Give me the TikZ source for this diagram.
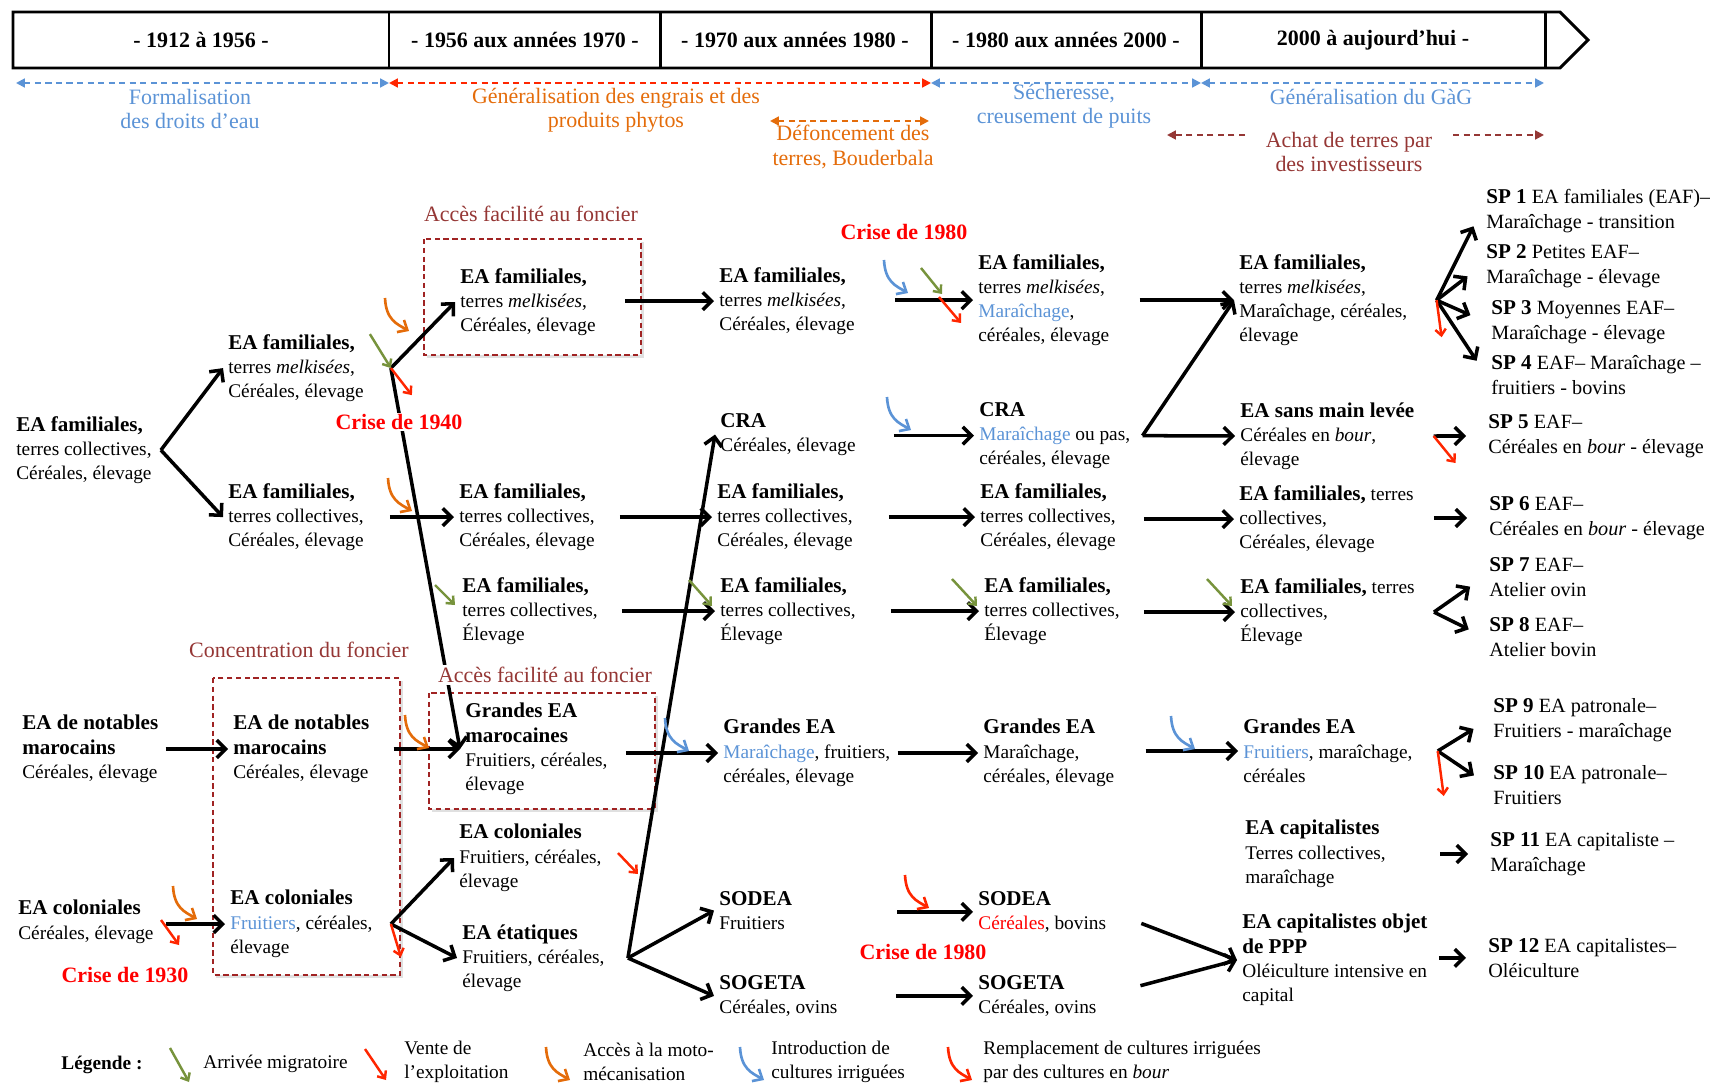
\documentclass[tikz,border=0pt]{standalone}
\usepackage{fontspec}
\setmainfont{Liberation Serif}
\usepackage{tikz}
\usetikzlibrary{arrows.meta}
\definecolor{CBlue}{RGB}{91,147,214}
\definecolor{COrange}{RGB}{228,108,10}
\definecolor{CRed}{RGB}{255,38,0}
\definecolor{CBrown}{RGB}{149,55,53}
\definecolor{CGreen}{RGB}{119,147,60}
\definecolor{CBox}{RGB}{160,35,35}
\newcommand{\hdr}[1]{{\fontsize{12}{13.8}\selectfont\bfseries #1}}

\begin{document}
\begin{tikzpicture}[x=0.02cm, y=-0.02cm,
  ea/.style={anchor=north west, align=left, inner xsep=0.1cm, inner ysep=0pt,
             font=\fontsize{11}{13.8}\selectfont},
  sp/.style={ea, font=\fontsize{11.5}{14.2}\selectfont},
  period/.style={font=\fontsize{12.5}{14}\selectfont\bfseries},
  lbl/.style={text=#1, align=center, inner sep=1pt, font=\fontsize{12.5}{13.8}\selectfont},
  crise/.style={text=red, inner sep=1pt, font=\fontsize{12.5}{14}\selectfont\bfseries},
  arr/.style={-{Straight Barb[length=5pt,width=10pt]}, line width=2pt},
  tosp/.style={arr, shorten >=0.34cm},
  ev/.style={-{Straight Barb[length=3.5pt,width=6pt]}, line width=1.4pt, draw=#1},
  span/.style={{Triangle[length=5pt,width=5pt]}-{Triangle[length=5pt,width=5pt]},
               draw=#1, line width=1.1pt, dash pattern=on 3.5pt off 2.5pt},
  half/.style={-{Triangle[length=5pt,width=5pt]}, draw=#1, line width=1.1pt,
               dash pattern=on 3.5pt off 2.5pt},
  fbox/.style={draw=CBox, line width=1pt, dash pattern=on 3pt off 2pt, fill=white},
  hookarr/.pic={\draw[-{Straight Barb[length=4.5pt,width=8pt]}, line width=1.5pt, draw=#1]
                (0,0) .. controls (1,22) and (12,26) .. (24,33);}
]
\useasboundingbox (0,0) rectangle (1710,1084);

% Timeline
\draw[line width=1.7pt] (13,12) -- (1560,12) -- (1588,40) -- (1560,68) -- (13,68) -- cycle;
\draw[line width=1.7pt] (389,12) -- (389,68);
\draw[line width=1.7pt] (660,12) -- (660,68);
\draw[line width=1.7pt] (931,12) -- (931,68);
\draw[line width=1.7pt] (1201,12) -- (1201,68);
\draw[line width=1.7pt] (1545,12) -- (1545,68);
\node[period] (p1) at (201,40)  {- 1912 à 1956 -};
\node[period] (p2) at (525,40)  {- 1956 aux années 1970 -};
\node[period] (p3) at (795,40)  {- 1970 aux années 1980 -};
\node[period] (p4) at (1066,40) {- 1980 aux années 2000 -};
\node[period] (p5) at (1373,40) {2000 à aujourd’hui -};

% Context spans
\coordinate (s0) at (16,83);
\coordinate (s1) at (389,83);
\coordinate (s2) at (931,83);
\coordinate (s3) at (1201,83);
\coordinate (s4) at (1544,83);
\draw[span=CBlue] (s0) -- (s1);
\draw[span=CRed]  (s1) -- (s2);
\draw[span=CBlue] (s2) -- (s3);
\draw[span=CBlue] (s3) -- (s4);
\coordinate (o1) at (770,121);
\coordinate (o2) at (929,121);
\draw[span=COrange] (o1) -- (o2);
\coordinate (b1) at (1245,135);
\coordinate (b2) at (1167,135);
\coordinate (b3) at (1453,135);
\coordinate (b4) at (1544,135);
\draw[half=CBrown] (b1) -- (b2);
\draw[half=CBrown] (b3) -- (b4);
\node[lbl=CBlue]   (l1) at (190,109)  {Formalisation\\des droits d’eau};
\node[lbl=COrange] (l2) at (616,110)  {Généralisation des engrais et des\\produits phytos};
\node[lbl=COrange] (l3) at (853,147)  {Défoncement des\\terres, Bouderbala};
\node[lbl=CBlue]   (l4) at (1064,106) {Sécheresse,\\creusement de puits};
\node[lbl=CBlue]   (l5) at (1371,97)  {Généralisation du GàG};
\node[lbl=CBrown]  (l6) at (1349,152) {Achat de terres par\\des investisseurs};

% Land boxes
\fill[black!12] (427,242) rectangle (644,358);
\draw[fbox] (424,239) rectangle (641,355);
\fill[black!12] (216,681) rectangle (403,978);
\draw[fbox] (213,678) rectangle (400,975);
\fill[black!12] (432,696) rectangle (658,812);
\draw[fbox] (429,693) rectangle (655,809);

% Farms 1912-1956
\node[ea] (A1) at (11,416)  {\hdr{EA familiales,}\\terres collectives,\\Céréales, élevage};
\node[ea] (A2) at (17,715)  {\hdr{EA de notables}\\\hdr{marocains}\\Céréales, élevage};
\node[ea] (A3) at (13,900)  {\hdr{EA coloniales}\\Céréales, élevage};
\node[ea] (B1) at (223,334) {\hdr{EA familiales,}\\terres \textit{melkisées},\\Céréales, élevage};
\node[ea] (B2) at (223,483) {\hdr{EA familiales,}\\terres collectives,\\Céréales, élevage};
\node[ea] (B3) at (228,715) {\hdr{EA de notables}\\\hdr{marocains}\\Céréales, élevage};
\node[ea] (B4) at (225,890) {\hdr{EA coloniales}\\\textcolor{CBlue}{Fruitiers}, céréales,\\élevage};

% Farms 1956-1970
\node[ea] (C1) at (455,268) {\hdr{EA familiales,}\\terres \textit{melkisées},\\Céréales, élevage};
\node[ea] (C2) at (454,483) {\hdr{EA familiales,}\\terres collectives,\\Céréales, élevage};
\node[ea] (C3) at (457,577) {\hdr{EA familiales,}\\terres collectives,\\Élevage};
\node[ea] (C4) at (460,703) {\hdr{Grandes EA}\\\hdr{marocaines}\\Fruitiers, céréales,\\élevage};
\node[ea] (C5) at (454,824) {\hdr{EA coloniales}\\Fruitiers, céréales,\\élevage};
\node[ea] (C6) at (457,924) {\hdr{EA étatiques}\\Fruitiers, céréales,\\élevage};

% Farms 1970-1980
\node[ea] (D1) at (714,267) {\hdr{EA familiales,}\\terres \textit{melkisées},\\Céréales, élevage};
\node[ea] (D2) at (715,413) {\hdr{CRA}\\Céréales, élevage};
\node[ea] (D3) at (712,483) {\hdr{EA familiales,}\\terres collectives,\\Céréales, élevage};
\node[ea] (D4) at (715,577) {\hdr{EA familiales,}\\terres collectives,\\Élevage};
\node[ea] (D5) at (718,719) {\hdr{Grandes EA}\\\textcolor{CBlue}{Maraîchage}, fruitiers,\\céréales, élevage};
\node[ea] (D6) at (714,891) {\hdr{SODEA}\\Fruitiers};
\node[ea] (D7) at (714,975) {\hdr{SOGETA}\\Céréales, ovins};

% Farms 1980-2000
\node[ea] (E1) at (973,254) {\hdr{EA familiales,}\\terres \textit{melkisées},\\\textcolor{CBlue}{Maraîchage},\\céréales, élevage};
\node[ea] (E2) at (974,402) {\hdr{CRA}\\\textcolor{CBlue}{Maraîchage} ou pas,\\céréales, élevage};
\node[ea] (E3) at (975,483) {\hdr{EA familiales,}\\terres collectives,\\Céréales, élevage};
\node[ea] (E4) at (979,577) {\hdr{EA familiales,}\\terres collectives,\\Élevage};
\node[ea] (E5) at (978,719) {\hdr{Grandes EA}\\Maraîchage,\\céréales, élevage};
\node[ea] (E6) at (973,891) {\hdr{SODEA}\\\textcolor{red}{Céréales}, bovins};
\node[ea] (E7) at (973,975) {\hdr{SOGETA}\\Céréales, ovins};

% Farms 2000-today
\node[ea] (F1) at (1234,254) {\hdr{EA familiales,}\\terres \textit{melkisées},\\Maraîchage, céréales,\\élevage};
\node[ea] (F2) at (1235,402) {\hdr{EA sans main levée}\\Céréales en \textit{bour},\\élevage};
\node[ea] (F3) at (1234,485) {\hdr{EA familiales,} terres\\collectives,\\Céréales, élevage};
\node[ea] (F4) at (1235,578) {\hdr{EA familiales,} terres\\collectives,\\Élevage};
\node[ea] (F5) at (1238,719) {\hdr{Grandes EA}\\\textcolor{CBlue}{Fruitiers}, maraîchage,\\céréales};
\node[ea] (F6) at (1240,820) {\hdr{EA capitalistes}\\Terres collectives,\\maraîchage};
\node[ea] (F7) at (1237,914) {\hdr{EA capitalistes objet}\\\hdr{de PPP}\\Oléiculture intensive en\\capital};

% Production systems
\node[sp] (SP1)  at (1481,189) {\hdr{SP 1} EA familiales (EAF)–\\Maraîchage - transition};
\node[sp] (SP2)  at (1481,244) {\hdr{SP 2} Petites EAF–\\Maraîchage - élevage};
\node[sp] (SP3)  at (1486,300) {\hdr{SP 3} Moyennes EAF–\\Maraîchage - élevage};
\node[sp] (SP4)  at (1486,355) {\hdr{SP 4} EAF– Maraîchage –\\fruitiers - bovins};
\node[sp] (SP5)  at (1483,414) {\hdr{SP 5} EAF–\\Céréales en \textit{bour} - élevage};
\node[sp] (SP6)  at (1484,496) {\hdr{SP 6} EAF–\\Céréales en \textit{bour} - élevage};
\node[sp] (SP7)  at (1484,557) {\hdr{SP 7} EAF–\\Atelier ovin};
\node[sp] (SP8)  at (1484,617) {\hdr{SP 8} EAF–\\Atelier bovin};
\node[sp] (SP9)  at (1488,698) {\hdr{SP 9} EA patronale–\\Fruitiers - maraîchage};
\node[sp] (SP10) at (1488,765) {\hdr{SP 10} EA patronale–\\Fruitiers};
\node[sp] (SP11) at (1485,832) {\hdr{SP 11} EA capitaliste –\\Maraîchage};
\node[sp] (SP12) at (1483,938) {\hdr{SP 12} EA capitalistes–\\Oléiculture};

% Forks
\coordinate (jA1) at ([xshift=0.08cm]A1.east);
\coordinate (jB1) at ([xshift=0.44cm]B1.east);
\coordinate (jB4) at ([xshift=0.26cm]B4.east);
\coordinate (jC6) at ([xshift=0.36cm]C6.east);
\coordinate (jE2) at ([xshift=0.14cm]E2.east);
\coordinate (jF1) at ([xshift=0.48cm]F1.east);
\coordinate (jF2) at ([xshift=0.28cm]F2.east);
\coordinate (jF4) at ([xshift=0.28cm]F4.east);
\coordinate (jF5) at ([xshift=0.40cm]F5.east);

% Trajectories
\draw[arr] (jA1) -- (B1.west);
\draw[arr] (jA1) -- (B2.west);
\draw[arr, shorten <=0.04cm] (A2.east |- B3.west) -- (B3.west);
\draw[arr, shorten <=0.14cm] (A3.east |- B4.west) -- (B4.west);
\draw[arr] (jB1) -- (C1.west);
\draw[arr] (jB1) -- (C4.west);
\draw[arr, shorten <=0.42cm] (B2.east |- C2.west) -- (C2.west);
\draw[arr, shorten <=0.38cm] (B3.east |- C4.west) -- (C4.west);
\draw[arr] (jB4) -- (C5.west);
\draw[arr] (jB4) -- (C6.west);
\draw[arr, shorten <=0.48cm] (C1.east |- D1.west) -- (D1.west);
\draw[arr, shorten <=0.40cm] (C2.east |- D3.west) -- (D3.west);
\draw[arr, shorten <=0.38cm] (C3.east |- D4.west) -- (D4.west);
\draw[arr, shorten <=0.26cm] (C4.east |- D5.west) -- (D5.west);
\draw[arr] (jC6) -- (D2.west);
\draw[arr] (jC6) -- (D6.west);
\draw[arr] (jC6) -- (D7.west);
\draw[arr, shorten <=0.70cm] (D1.east |- E1.west) -- (E1.west);
\draw[arr, shorten <=0.66cm] (D2.east |- E2.west) -- (E2.west);
\draw[arr, shorten <=0.62cm] (D3.east |- E3.west) -- (E3.west);
\draw[arr, shorten <=0.60cm] (D4.east |- E4.west) -- (E4.west);
\draw[arr, shorten <=0.04cm] (D5.east |- E5.west) -- (E5.west);
\draw[arr, shorten <=2.0cm]  (D6.east |- E6.west) -- (E6.west);
\draw[arr, shorten <=1.06cm] (D7.east |- E7.west) -- (E7.west);
\draw[arr, shorten <=0.50cm] (E1.east |- F1.west) -- (F1.west);
\draw[arr] (jE2) -- (F1.west);
\draw[arr] (jE2) -- (F2.west);
\draw[arr, shorten <=0.46cm] (E3.east |- F3.west) -- (F3.west);
\draw[arr, shorten <=0.38cm] (E4.east |- F4.west) -- (F4.west);
\draw[arr, shorten <=0.52cm] (E5.east |- F5.west) -- (F5.west);
\draw[arr, shorten <=0.64cm] (E6.east) -- (F7.west);
\draw[arr, shorten <=0.80cm] (E7.east) -- (F7.west);
\draw[tosp] (jF1) -- (SP1.west);
\draw[tosp] (jF1) -- (SP2.west);
\draw[tosp] (jF1) -- (SP3.west);
\draw[tosp] (jF1) -- (SP4.west);
\draw[tosp] (jF2) -- (SP5.west);
\draw[tosp, shorten <=0.30cm] (F3.east |- SP6.west) -- (SP6.west);
\draw[tosp] (jF4) -- (SP7.west);
\draw[tosp] (jF4) -- (SP8.west);
\draw[tosp] (jF5) -- (SP9.west);
\draw[tosp] (jF5) -- (SP10.west);
\draw[tosp, shorten <=0.98cm] (F6.east |- SP11.west) -- (SP11.west);
\draw[tosp, shorten <=0.12cm] (F7.east |- SP12.west) -- (SP12.west);

% Events: migration
\draw[ev=CGreen] (jB1) ++(-21,-34) -- (jB1);
\draw[ev=CGreen] (435,585) -- (455,605);
\draw[ev=CGreen] (921,268) -- (942,294);
\draw[ev=CGreen] (689,580) -- (712,606);
\draw[ev=CGreen] (952,579) -- (977,606);
\draw[ev=CGreen] (1207,579) -- (1232,606);
% Events: sales
\draw[ev=CRed] (jB1) -- ++(21,27);
\draw[ev=CRed] (939,297) -- (961,323);
\draw[ev=CRed] (161,920) -- (179,945);
\draw[ev=CRed] (jB4) -- ++(10,33);
\draw[ev=CRed] (618,853) -- (638,874);
\draw[ev=CRed] (jF1) -- ++(5,37);
\draw[ev=CRed] (jF2) -- ++(22,27);
\draw[ev=CRed] (jF5) -- ++(6,45);
% Events: mechanisation, irrigation, rainfed
\pic at (385,298) {hookarr=COrange};
\pic at (388,478) {hookarr=COrange};
\pic at (405,715) {hookarr=COrange};
\pic at (173,886) {hookarr=COrange};
\pic at (884,260) {hookarr=CBlue};
\pic at (887,397) {hookarr=CBlue};
\pic at (665,718) {hookarr=CBlue};
\pic at (1171,716) {hookarr=CBlue};
\pic at (905,875) {hookarr=CRed};

% Labels
\node[crise, fill=white] (k1) at (399,422) {Crise de 1940};
\node[crise] (k2) at (904,232) {Crise de 1980};
\node[crise] (k3) at (125,975) {Crise de 1930};
\node[crise] (k4) at (923,952) {Crise de 1980};
\node[lbl=CBrown] (f1) at (531,214) {Accès facilité au foncier};
\node[lbl=CBrown] (f2) at (299,650) {Concentration du foncier};
\node[lbl=CBrown, fill=white] (f3) at (545,675) {Accès facilité au foncier};

% Legend
\node[font=\fontsize{11}{13.8}\selectfont\bfseries] (leg) at (102,1065) {Légende :};
\draw[ev=CGreen] (170,1048) -- (189,1082);
\node[ea, anchor=west] (lg1) at (198,1064) {Arrivée migratoire};
\draw[ev=CRed] (365,1049) -- (386,1080);
\node[ea, anchor=west] (lg2) at (399,1062) {Vente de\\l’exploitation};
\pic at (546,1047) {hookarr=COrange};
\node[ea, anchor=west] (lg3) at (578,1062) {Accès à la moto-\\mécanisation};
\pic at (740,1047) {hookarr=CBlue};
\node[ea, anchor=west] (lg4) at (766,1062) {Introduction de\\cultures irriguées};
\pic at (948,1047) {hookarr=CRed};
\node[ea, anchor=west] (lg5) at (978,1062) {Remplacement de cultures irriguées\\par des cultures en \textit{bour}};
\end{tikzpicture}
\end{document}
